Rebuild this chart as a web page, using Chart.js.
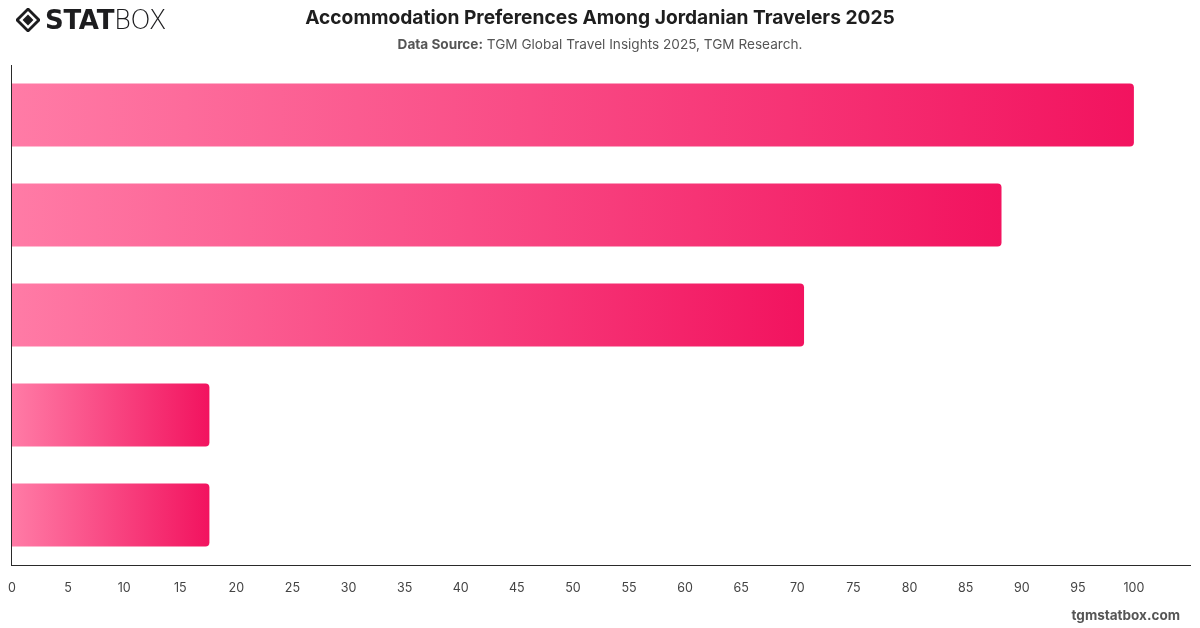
<!DOCTYPE html>
<html>
<head>
<meta charset="utf-8">
<script src="https://cdn.jsdelivr.net/npm/chart.js@4.4.1/dist/chart.umd.min.js"></script>
<style>
  body { margin: 0; background: #fff; font-family: Inter, "Liberation Sans", sans-serif; }
  .wrap { position: relative; width: 1200px; height: 628px; }
  .logo { position: absolute; left: 16px; top: 5px; display: flex; align-items: center; }
  .logo .mark { width: 24px; height: 24px; margin-right: 5px; }
  .logo .txt { font-family: "DejaVu Sans", sans-serif; font-size: 26px; letter-spacing: -0.3px; color: #1d1d1f; }
  .logo .txt b { font-weight: 900; }
  .logo .txt span { font-weight: 300; }
  .title { position: absolute; left: 0; width: 1200px; top: 5px; text-align: center; font-size: 19.2px; font-weight: 700; color: #1e1e1e; }
  .sub { position: absolute; left: 0; width: 1200px; top: 36px; text-align: center; font-size: 13.6px; color: #555; }
  .sub b { color: #555; }
  .foot { position: absolute; right: 20px; top: 607px; font-size: 13.5px; font-weight: 700; color: #555; }
  canvas { position: absolute; left: 0; top: 0; }
</style>
</head>
<body>
<div class="wrap">
  <canvas id="myChart" width="1200" height="628"></canvas>
  <div class="logo">
    <svg class="mark" viewBox="0 0 22 22">
      <path d="M11 1 L21 11 L11 21 L1 11 Z" fill="none" stroke="#1d1d1f" stroke-width="2.6"/>
      <path d="M11 6 L16 11 L11 16 L6 11 Z" fill="#1d1d1f"/>
    </svg>
    <div class="txt"><b>STAT</b><span>BOX</span></div>
  </div>
  <div class="title">Accommodation Preferences Among Jordanian Travelers 2025</div>
  <div class="sub"><b>Data Source:</b> TGM Global Travel Insights 2025, TGM Research.</div>
  <div class="foot">tgmstatbox.com</div>
</div>
<script>
const categories = ['Hotels', 'Vacation rentals', 'Friends or family', 'Hostels', 'Camping'];
const shares = [100, 88.2, 70.6, 17.6, 17.6];

const barGradient = (context) => {
    const chart = context.chart;
    const xScale = chart.scales.x;
    if (!chart.chartArea || !xScale || context.raw === undefined) return '#f72a74';
    const x0 = xScale.getPixelForValue(0);
    const x1 = xScale.getPixelForValue(context.raw);
    const g = chart.ctx.createLinearGradient(x0, 0, x1, 0);
    g.addColorStop(0, '#ff7ba6');
    g.addColorStop(1, '#f2135f');
    return g;
};

const ctx = document.querySelector('#myChart');

const myChart = new Chart(ctx, {
    type: 'bar',
    data: {
        labels: categories,
        datasets: [{
            label: 'Share',
            data: shares,
            backgroundColor: barGradient,
            borderRadius: { topLeft: 0, bottomLeft: 0, topRight: 4, bottomRight: 4 },
            borderSkipped: false,
            categoryPercentage: 0.7,
            barPercentage: 0.9
        }]
    },
    options: {
        indexAxis: 'y',
        responsive: false,
        animation: false,
        layout: { padding: { top: 65, left: 3, right: 10, bottom: 24 } },
        plugins: {
            legend: { display: false },
            tooltip: { enabled: false }
        },
        scales: {
            x: {
                min: 0,
                max: 105,
                grid: { display: false },
                border: { display: true, color: '#2a2a2a', width: 1 },
                ticks: {
                    stepSize: 5,
                    color: '#444',
                    padding: 8,
                    font: { family: 'Inter', size: 12.5 },
                    callback: (v) => v > 100 ? '' : v
                }
            },
            y: {
                grid: { display: false },
                border: { display: true, color: '#2a2a2a', width: 1 },
                ticks: { display: false }
            }
        }
    }
});
</script>
</body>
</html>
